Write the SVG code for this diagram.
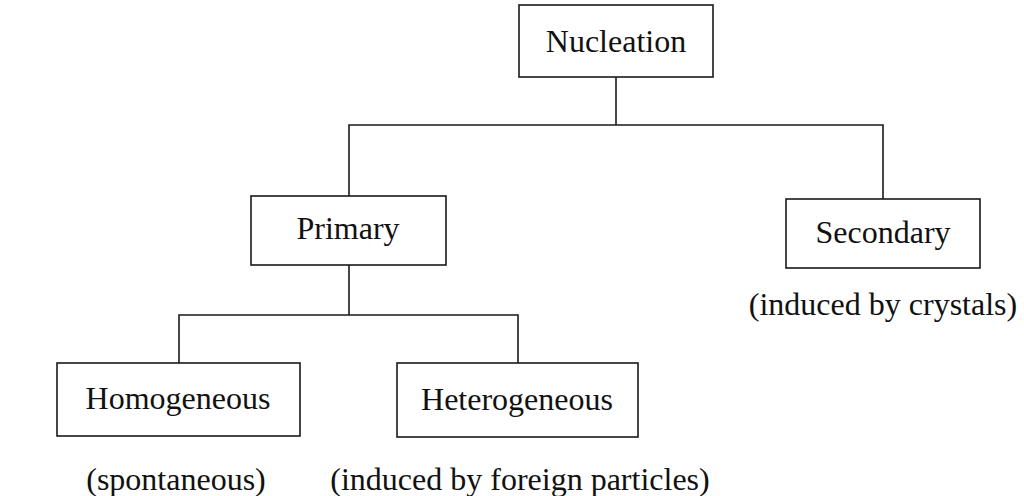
<svg xmlns="http://www.w3.org/2000/svg" width="1024" height="496" viewBox="0 0 1024 496">
  <style>
    .box { fill: #ffffff; stroke: #1a1a1a; stroke-width: 1.6; }
    .conn { fill: none; stroke: #1a1a1a; stroke-width: 1.6; }
    .lbl { font-family: "Liberation Serif", "Times New Roman", serif; font-size: 32px; fill: #111111; text-anchor: middle; }
  </style>
  <rect width="1024" height="496" fill="#ffffff"/>
  <g id="connectors">
    <path class="conn" d="M616,77 V125"/>
    <path class="conn" d="M349,196 V125 H883 V199"/>
    <path class="conn" d="M349,265 V315"/>
    <path class="conn" d="M179,363 V315 H518 V363"/>
  </g>
  <g id="nucleation">
    <rect class="box" x="519" y="5" width="194" height="72"/>
    <text class="lbl" x="616" y="52">Nucleation</text>
  </g>
  <g id="primary">
    <rect class="box" x="251" y="196" width="195" height="69"/>
    <text class="lbl" x="348" y="239">Primary</text>
  </g>
  <g id="secondary">
    <rect class="box" x="786" y="199" width="194" height="69"/>
    <text class="lbl" x="883" y="243">Secondary</text>
    <text class="lbl" x="883" y="315">(induced by crystals)</text>
  </g>
  <g id="homogeneous">
    <rect class="box" x="57" y="363" width="243" height="73"/>
    <text class="lbl" x="178" y="409">Homogeneous</text>
    <text class="lbl" x="176" y="490">(spontaneous)</text>
  </g>
  <g id="heterogeneous">
    <rect class="box" x="397" y="363" width="241" height="74"/>
    <text class="lbl" x="517" y="410">Heterogeneous</text>
    <text class="lbl" x="520" y="490">(induced by foreign particles)</text>
  </g>
</svg>
